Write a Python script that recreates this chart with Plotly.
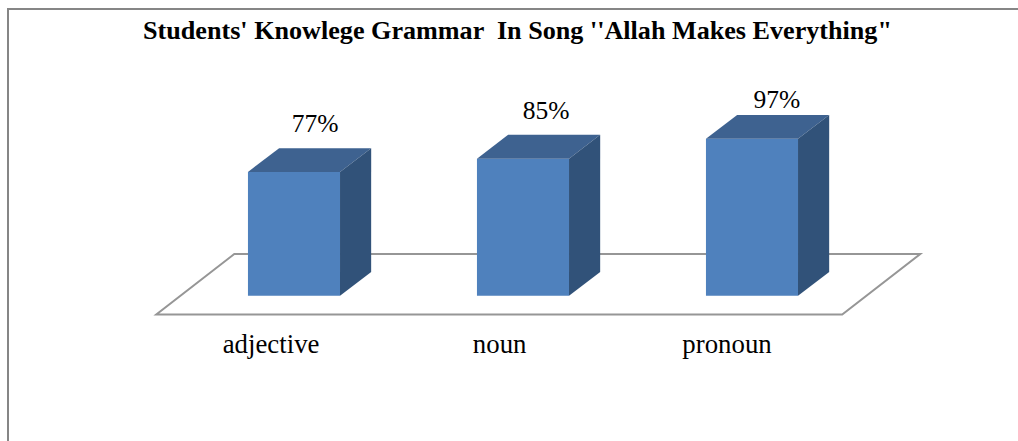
import plotly.graph_objects as go

categories = ["adjective", "noun", "pronoun"]
values = [77, 85, 97]
value_labels = ["77%", "85%", "97%"]
value_label_y = [104.6, 112.4, 119.0]
value_label_x = [0.092, 1.101, 2.109]
category_label_x = [-0.1, 0.898, 1.891]

TITLE = "Students' Knowlege Grammar  In Song ''Allah Makes Everything\""
BASE = 2.7
BAR_W = 0.402
DX, DY = 0.136, 14.3
FRONT, TOP, SIDE = "#4F81BD", "#3E6290", "#315279"
FONT = "Liberation Serif"
positions = list(range(len(categories)))

fig = go.Figure()

# front faces
fig.add_trace(go.Bar(x=positions, y=[v - BASE for v in values], base=BASE, width=BAR_W,
                     marker=dict(color=FRONT, line=dict(width=0)), hoverinfo="skip"))

# depth faces derived from the data
for p, v in zip(positions, values):
    l, r = p - BAR_W / 2, p + BAR_W / 2
    fig.add_trace(go.Scatter(x=[l, r, r + DX, l + DX, l], y=[v, v, v + DY, v + DY, v],
                             mode="lines", fill="toself", fillcolor=TOP,
                             line=dict(width=0), hoverinfo="skip"))
    fig.add_trace(go.Scatter(x=[r, r + DX, r + DX, r, r],
                             y=[BASE, BASE + DY, v + DY, v, BASE],
                             mode="lines", fill="toself", fillcolor=SIDE,
                             line=dict(width=0), hoverinfo="skip"))

# value labels and category labels
fig.add_trace(go.Scatter(x=value_label_x, y=value_label_y, text=value_labels,
                         mode="text", textposition="middle center",
                         textfont=dict(family=FONT, size=25.5, color="#000000"), hoverinfo="skip"))
fig.add_trace(go.Scatter(x=category_label_x, y=[-27.5] * 3, text=categories,
                         mode="text", textposition="middle center",
                         textfont=dict(family=FONT, size=26.8, color="#000000"), hoverinfo="skip"))

# floor (drawn behind the bars)
floor_x = [-0.6013, 2.3939, 2.7345, -0.2607]
floor_y = [-8.6, -8.6, 27.7, 27.7]
path = "M " + " L ".join(f"{x},{y}" for x, y in zip(floor_x, floor_y)) + " Z"

fig.update_layout(
    width=1018, height=441, autosize=False,
    margin=dict(l=0, r=0, t=0, b=0),
    paper_bgcolor="white", plot_bgcolor="white",
    showlegend=False,
    xaxis=dict(range=[-1.2838, 3.1616], visible=False, fixedrange=True),
    yaxis=dict(range=[-84.57, 180.3], visible=False, fixedrange=True),
    title=dict(text=f"<b>{TITLE}</b>", x=517.5 / 1018, xanchor="center", y=1 - 29.5 / 441, yanchor="middle",
               font=dict(family=FONT, size=26.15, color="#000000")),
    shapes=[
        dict(type="path", path=path, xref="x", yref="y", layer="below",
             line=dict(color="#969696", width=2), fillcolor="white"),
        dict(type="line", xref="paper", yref="paper", x0=8 / 1018, x1=8 / 1018, y0=0, y1=1 - 8 / 441,
             line=dict(color="#868686", width=2)),
        dict(type="line", xref="paper", yref="paper", x0=8 / 1018, x1=1, y0=1 - 9 / 441, y1=1 - 9 / 441,
             line=dict(color="#868686", width=2)),
    ],
)
fig.write_html("out.html", config={"displayModeBar": False},
               post_script="document.body.style.margin='0';document.documentElement.style.overflow='hidden';")
